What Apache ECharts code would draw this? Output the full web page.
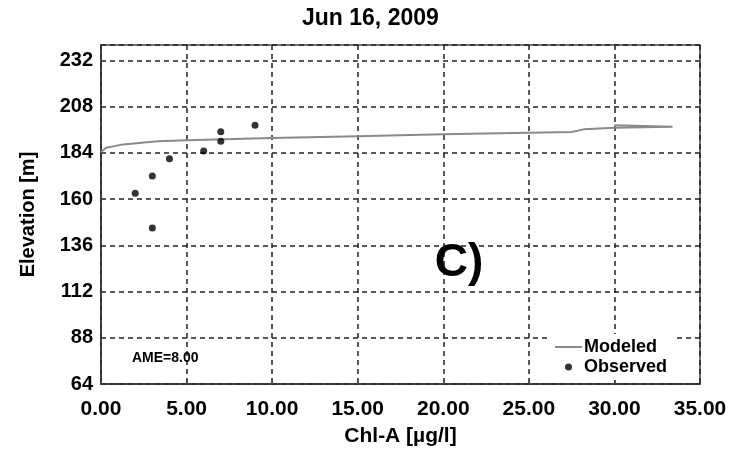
<!DOCTYPE html>
<html>
<head>
<meta charset="utf-8">
<script src="https://cdn.jsdelivr.net/npm/echarts@6/dist/echarts.min.js"></script>
<style>
html,body{margin:0;padding:0;background:#fff;}
#chart{width:732px;height:453px;}
</style>
</head>
<body>
<div id="chart"></div>
<script>
var titleText = 'Jun 16, 2009';
var xAxisName = 'Chl-A [\u00b5g/l]';
var yAxisName = 'Elevation [m]';
var panelLabel = 'C)';
var ameLabel = 'AME=8.00';

// Modeled profile (Chl-A vs elevation), ordered from bottom to top
var modeledX = [0, 0.3, 1.3, 3.3, 5, 10, 15, 20, 25, 27.5, 28.2, 30, 33.4, 30.0];
var modeledY = [184.4, 186.7, 188.4, 190, 190.5, 191.7, 192.6, 193.6, 194.4, 194.8, 196.2, 197, 197.5, 198.4];

// Observed samples
var obsX = [2, 3, 3, 4, 6, 7, 7, 9];
var obsY = [163, 145, 172, 181, 185, 190, 195, 198.4];

var xTicks = [0, 5, 10, 15, 20, 25, 30, 35];
var yTicks = [64, 88, 112, 136, 160, 184, 208, 232];

var FONT = "'Liberation Sans', Arial, sans-serif";

var modeledData = modeledX.map(function (x, i) { return [x, modeledY[i]]; });
var obsData = obsX.map(function (x, i) { return [x, obsY[i]]; });

var chart = echarts.init(document.getElementById('chart'), null, {renderer: 'canvas'});
chart.setOption({
  backgroundColor: '#fff',
  animation: false,
  textStyle: {fontFamily: FONT},
  title: {
    text: titleText,
    left: 302,
    top: 7,
    padding: 0,
    textStyle: {fontFamily: FONT, fontSize: 23, fontWeight: 'bold', color: '#000'}
  },
  grid: {
    left: 101, right: 32, top: 45, bottom: 69,
    show: true, borderColor: '#444', borderWidth: 1.5, backgroundColor: '#fff'
  },
  legend: {
    left: 549, top: 334,
    orient: 'vertical',
    padding: [4, 6, 4, 6],
    backgroundColor: '#fff',
    itemWidth: 27, itemHeight: 7, itemGap: 2,
    textStyle: {fontFamily: FONT, fontSize: 18, fontWeight: 'bold', color: '#000', lineHeight: 18, padding: [0, 0, 0, -3]},
    data: [
      {name: 'Modeled', icon: 'path://M0,0L27,0L27,2L0,2Z', itemStyle: {color: '#8a8a8a'}},
      {name: 'Observed', icon: 'circle', itemStyle: {color: '#000'}}
    ]
  },
  xAxis: {
    type: 'value', min: xTicks[0], max: xTicks[xTicks.length - 1], interval: 5,
    name: xAxisName, nameLocation: 'middle', nameGap: 42,
    nameTextStyle: {fontFamily: FONT, fontSize: 21, fontWeight: 'bold', color: '#000'},
    axisLine: {show: true, onZero: false, lineStyle: {color: '#333', width: 1.5}},
    axisTick: {show: true, inside: true, length: 4, lineStyle: {color: '#444'}},
    axisLabel: {margin: 15, fontFamily: FONT, fontSize: 21, fontWeight: 'bold', color: '#000',
      formatter: function (v) { return v.toFixed(2); }},
    splitLine: {show: true, lineStyle: {color: '#222', width: 1.5, type: [5, 4]}}
  },
  yAxis: {
    type: 'value', min: yTicks[0], max: 240, interval: 24,
    name: yAxisName, nameLocation: 'middle', nameGap: 63,
    nameTextStyle: {fontFamily: FONT, fontSize: 20, fontWeight: 'bold', color: '#000'},
    axisLine: {show: true, onZero: false, lineStyle: {color: '#333', width: 1.5}},
    axisTick: {show: false},
    axisLabel: {margin: 8, showMaxLabel: false, fontFamily: FONT, fontSize: 20, fontWeight: 'bold', color: '#000'},
    splitLine: {show: true, lineStyle: {color: '#222', width: 1.5, type: [5, 4]}}
  },
  graphic: [
    {type: 'text', x: 459, y: 263, style: {text: panelLabel, font: 'bold 46px ' + FONT, fill: '#000', textAlign: 'center', textVerticalAlign: 'middle'}, z: 10},
    {type: 'text', x: 132, y: 358, style: {text: ameLabel, font: 'bold 14px ' + FONT, fill: '#000', textAlign: 'left', textVerticalAlign: 'middle'}, z: 10}
  ],
  series: [
    {
      name: 'Modeled', type: 'line', data: modeledData,
      showSymbol: false, symbol: 'none',
      lineStyle: {color: '#8a8a8a', width: 2},
      itemStyle: {color: '#8a8a8a'},
      z: 3
    },
    {
      name: 'Observed', type: 'scatter', data: obsData,
      symbol: 'circle', symbolSize: 7,
      itemStyle: {color: '#000'},
      z: 4
    }
  ]
});
</script>
</body>
</html>
